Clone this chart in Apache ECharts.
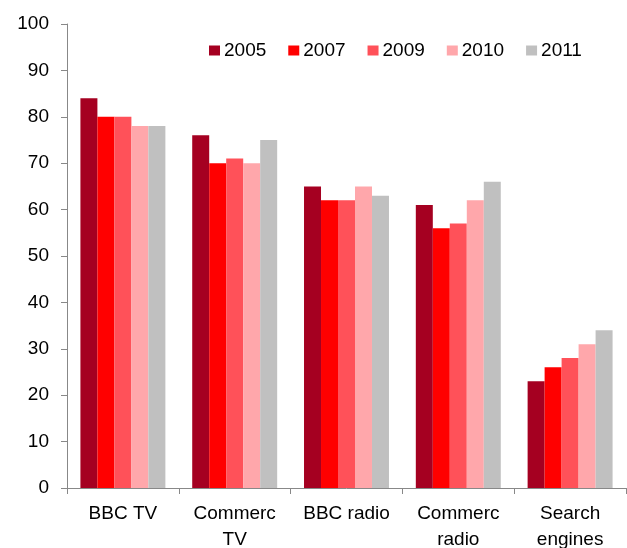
<!DOCTYPE html>
<html><head><meta charset="utf-8">
<script src="https://cdn.jsdelivr.net/npm/echarts@6/dist/echarts.min.js"></script>
<style>html,body{margin:0;padding:0;background:#fff}#c{width:627px;height:548px}</style>
</head><body><div id="c"></div>
<script>
const categories = ["BBC TV", "Commerc\nTV", "BBC radio", "Commerc\nradio", "Search\nengines"];
const years = ["2005", "2007", "2009", "2010", "2011"];
const v2005 = [84, 76, 65, 61, 23];
const v2007 = [80, 70, 62, 56, 26];
const v2009 = [80, 71, 62, 57, 28];
const v2010 = [78, 70, 65, 62, 31];
const v2011 = [78, 75, 63, 66, 34];
const yTicks = [0, 10, 20, 30, 40, 50, 60, 70, 80, 90, 100];

const colors = ["#A50021", "#FF0000", "#FF5159", "#FFA7AB", "#C0C0C0"];
const values = [v2005, v2007, v2009, v2010, v2011];
const font = "Liberation Sans, Arial, sans-serif";

const chart = echarts.init(document.getElementById('c'));
chart.setOption({
  animation: false,
  grid: {left: 67, right: 1, top: 24, bottom: 60, containLabel: false, outerBoundsMode: 'none'},
  legend: {
    data: years, left: 204, top: 36, itemWidth: 11, itemHeight: 10, itemGap: 22,
    icon: 'rect',
    textStyle: {fontFamily: font, fontSize: 19, color: '#000', padding: [0,0,0,-1]}
  },
  xAxis: {
    type: 'category', data: categories,
    axisLine: {lineStyle: {color: '#888', width: 1}},
    axisTick: {show: true, length: 6, lineStyle: {color: '#888'}},
    axisLabel: {fontFamily: font, fontSize: 19, color: '#000', lineHeight: 26, margin: 13, interval: 0}
  },
  yAxis: {
    type: 'value', min: yTicks[0], max: yTicks[yTicks.length-1], interval: 10,
    axisLine: {show: true, lineStyle: {color: '#888', width: 1}},
    axisTick: {show: true, length: 6, lineStyle: {color: '#888'}},
    splitLine: {show: false},
    axisLabel: {fontFamily: font, fontSize: 19, color: '#000', margin: 18}
  },
  series: years.map((y, i) => ({
    name: y, type: 'bar', data: values[i],
    barGap: '0%', barCategoryGap: '24%',
    itemStyle: {color: colors[i]}
  }))
});
</script></body></html>
